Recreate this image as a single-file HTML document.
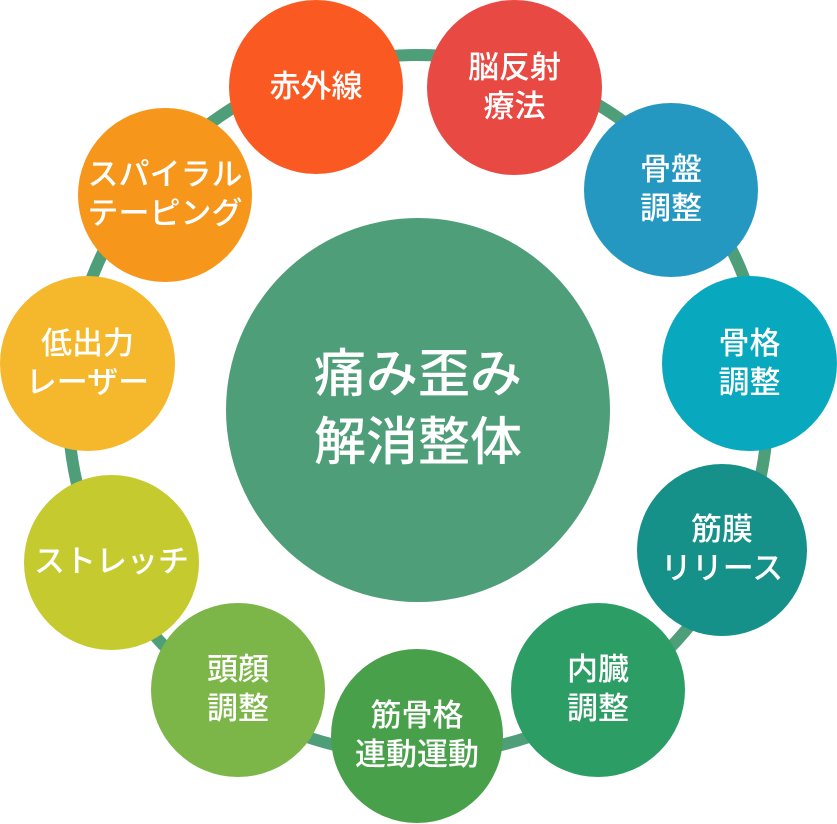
<!DOCTYPE html><html><head><meta charset="utf-8"><style>
body{margin:0;width:837px;height:824px;background:#fff;overflow:hidden;position:relative;font-family:"Liberation Sans","Noto Sans CJK JP",sans-serif}
.c{position:absolute;border-radius:50%;display:flex;align-items:center;justify-content:center;text-align:center;color:#fff;font-size:31px;line-height:1.25;font-weight:500}
</style></head><body>
<svg width="837" height="824" style="position:absolute;left:0;top:0"><circle cx="418" cy="405" r="350" fill="none" stroke="#4f9e7a" stroke-width="12"/></svg>
<div class="c" style="left:226px;top:218px;width:384px;height:384px;background:#4f9e7a;font-size:52px;line-height:1.3">痛み歪み<br>解消整体</div>
<div class="c" style="left:229px;top:0;width:174px;height:174px;background:#fa5a22">赤外線</div>
<div class="c" style="left:427px;top:0;width:175px;height:175px;background:#e84a43">脳反射<br>療法</div>
<div class="c" style="left:584px;top:103px;width:174px;height:174px;background:#2598c2">骨盤<br>調整</div>
<div class="c" style="left:662px;top:276px;width:175px;height:175px;background:#08a9bf">骨格<br>調整</div>
<div class="c" style="left:637px;top:464px;width:170px;height:172px;background:#15918a">筋膜<br>リリース</div>
<div class="c" style="left:511px;top:603px;width:174px;height:174px;background:#2c9d64">内臓<br>調整</div>
<div class="c" style="left:331px;top:649px;width:172px;height:174px;background:#48a04a">筋骨格<br>連動運動</div>
<div class="c" style="left:151px;top:603px;width:174px;height:174px;background:#7cb648">頭顔<br>調整</div>
<div class="c" style="left:24px;top:475px;width:175px;height:175px;background:#c5ca2f">ストレッチ</div>
<div class="c" style="left:0;top:276px;width:175px;height:175px;background:#f5b82c">低出力<br>レーザー</div>
<div class="c" style="left:78px;top:108px;width:174px;height:174px;background:#f6961a">スパイラル<br>テーピング</div>
</body></html>
